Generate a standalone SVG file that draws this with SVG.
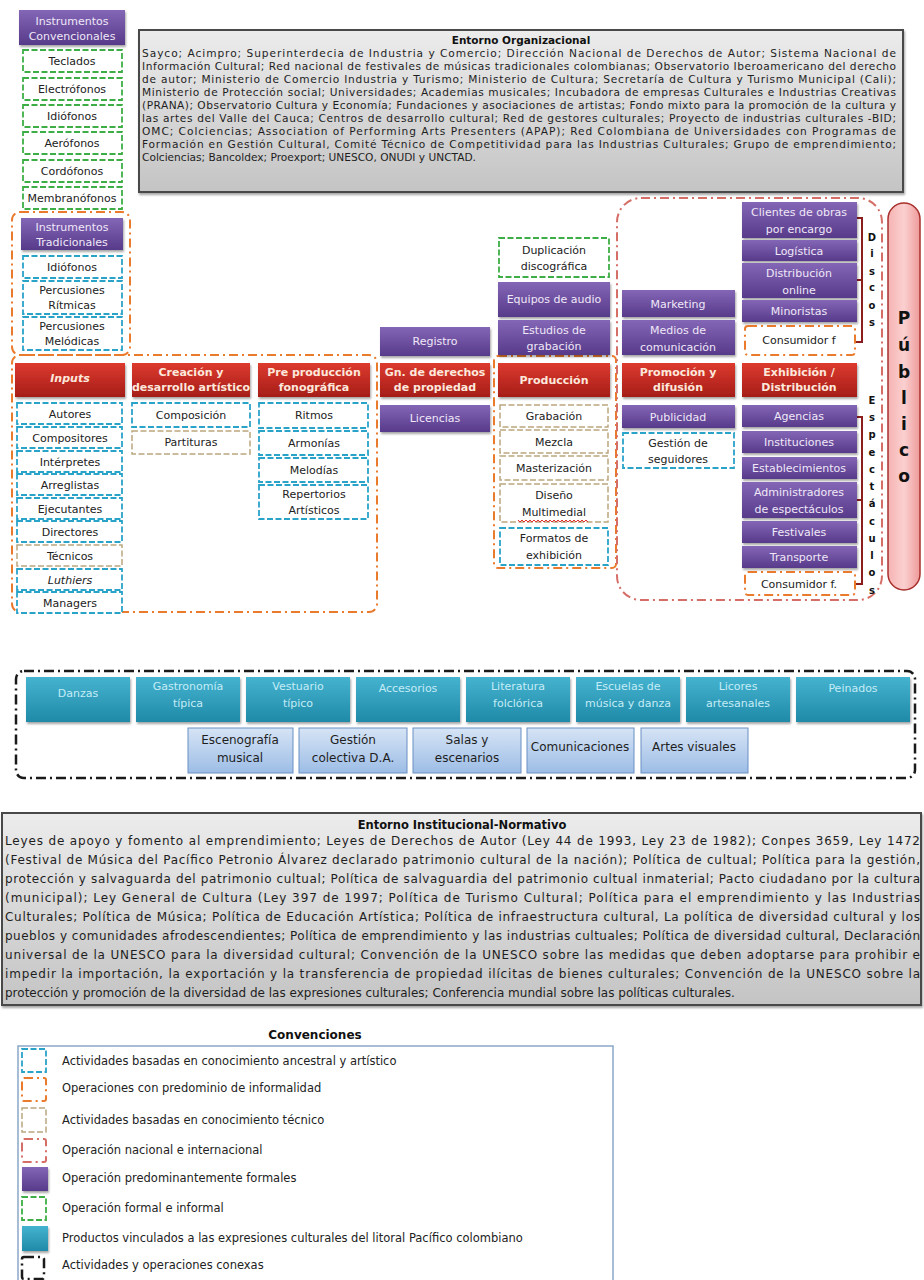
<svg xmlns="http://www.w3.org/2000/svg" width="924" height="1280" viewBox="0 0 924 1280">
<defs>
<linearGradient id="gp" x1="0" y1="0" x2="0" y2="1"><stop offset="0" stop-color="#8466b6"/><stop offset="1" stop-color="#573a8a"/></linearGradient>
<linearGradient id="gr" x1="0" y1="0" x2="0" y2="1"><stop offset="0" stop-color="#dd3a2e"/><stop offset="1" stop-color="#a51d18"/></linearGradient>
<linearGradient id="gt" x1="0" y1="0" x2="0" y2="1"><stop offset="0" stop-color="#45b3cf"/><stop offset="1" stop-color="#1f8aa8"/></linearGradient>
<linearGradient id="gb" x1="0" y1="0" x2="0" y2="1"><stop offset="0" stop-color="#d6e4f5"/><stop offset="1" stop-color="#9dbde6"/></linearGradient>
<linearGradient id="gg" x1="0" y1="0" x2="0" y2="1"><stop offset="0" stop-color="#ececec"/><stop offset="1" stop-color="#c4c4c4"/></linearGradient>
<linearGradient id="gpk" x1="0" y1="0" x2="1" y2="0"><stop offset="0" stop-color="#f6b3b3"/><stop offset="0.5" stop-color="#fbd0d0"/><stop offset="1" stop-color="#ee9a9a"/></linearGradient>
<filter id="sh" x="-10%" y="-10%" width="130%" height="140%"><feDropShadow dx="1" dy="2" stdDeviation="1.2" flood-color="#000" flood-opacity="0.35"/></filter>
</defs>
<style>
.pur{fill:url(#gp);filter:url(#sh)}
.red{fill:url(#gr);filter:url(#sh)}
.teal{fill:url(#gt);filter:url(#sh)}
.lb{fill:url(#gb);stroke:#6a8fc4;stroke-width:1}
.cy{fill:#fff;stroke:#2aa3c9;stroke-width:1.8;stroke-dasharray:6 2.5}
.gn{fill:#fff;stroke:#3dae45;stroke-width:1.8;stroke-dasharray:6 2.5}
.tn{fill:#fff;stroke:#bba77f;stroke-width:1.5;stroke-dasharray:6 2.5}
.or{fill:none;stroke:#ea7a2c;stroke-width:2;stroke-dasharray:9 4 2 4}
.nat{fill:none;stroke:#d66e68;stroke-width:2;stroke-dasharray:9 4 2 4}
.blk{fill:none;stroke:#1a1a1a;stroke-width:2.5;stroke-dasharray:10 4 2 4}
.env{fill:url(#gg);stroke:#4a4a4a;stroke-width:2;filter:url(#sh)}
text{font-family:"DejaVu Sans","Liberation Sans",sans-serif}
.t{font-size:11px;fill:#222;text-anchor:middle}
.w{font-size:11px;fill:#efe8f8;text-anchor:middle}
.h{font-size:11px;fill:#fde8dc;text-anchor:middle;font-weight:bold}
.tt{font-size:11px;fill:#c4ecf7;text-anchor:middle}
.b{font-size:12px;fill:#1e1e1e;text-anchor:middle}
.p{font-size:10.6px;fill:#1e1e1e}
.q{font-size:12px;fill:#1e1e1e}
.v{font-size:10px;font-weight:bold;fill:#111;text-anchor:middle}
.pu{font-size:17px;font-weight:bold;fill:#111;text-anchor:middle}
.lg{font-size:11.5px;fill:#222}
</style>

<!-- Entorno Organizacional -->
<g id="entorno-organizacional">
<rect class="env" x="139" y="30" width="764" height="162"/>
<text x="521" y="44" style="font-size:10.5px;font-weight:bold;fill:#111;text-anchor:middle">Entorno Organizacional</text>
<text class="p" x="142" y="57" textLength="754" lengthAdjust="spacing">Sayco; Acimpro; Superinterdecia de Industria y Comercio; Dirección Nacional de Derechos de Autor; Sistema Nacional de</text>
<text class="p" x="142" y="70" textLength="754" lengthAdjust="spacing">Información Cultural; Red nacional de festivales de músicas tradicionales colombianas; Observatorio Iberoamericano del derecho</text>
<text class="p" x="142" y="83" textLength="754" lengthAdjust="spacing">de autor; Ministerio de Comercio Industria y Turismo; Ministerio de Cultura; Secretaría de Cultura y Turismo Municipal (Cali);</text>
<text class="p" x="142" y="96" textLength="754" lengthAdjust="spacing">Ministerio de Protección social; Universidades; Academias musicales; Incubadora de empresas Culturales e Industrias Creativas</text>
<text class="p" x="142" y="109" textLength="754" lengthAdjust="spacing">(PRANA); Observatorio Cultura y Economía; Fundaciones y asociaciones de artistas; Fondo mixto para la promoción de la cultura y</text>
<text class="p" x="142" y="122" textLength="754" lengthAdjust="spacing">las artes del Valle del Cauca; Centros de desarrollo cultural; Red de gestores culturales; Proyecto de industrias culturales -BID;</text>
<text class="p" x="142" y="135" textLength="754" lengthAdjust="spacing">OMC; Colciencias; Association of Performing Arts Presenters (APAP); Red Colombiana de Universidades con Programas de</text>
<text class="p" x="142" y="148" textLength="754" lengthAdjust="spacing">Formación en Gestión Cultural, Comité Técnico de Competitividad para las Industrias Culturales; Grupo de emprendimiento;</text>
<text class="p" x="142" y="161">Colciencias; Bancoldex; Proexport; UNESCO, ONUDI y UNCTAD.</text>
</g>

<!-- Containers (groupings) -->
<g id="connectors">
<rect class="or" x="12" y="212" width="118" height="143" rx="8"/>
<rect class="or" x="12" y="355" width="365" height="257" rx="8"/>
<rect class="or" x="494" y="356" width="122" height="212" rx="4"/>
<rect class="nat" x="617" y="198" width="265" height="402" rx="24"/>
<path d="M855,218 H862 V342 H855 M862,280 H857" fill="none" stroke="#8b1d1d" stroke-width="2"/>
<path d="M855,417 H862 V584 H855 M862,500 H857" fill="none" stroke="#8b1d1d" stroke-width="2"/>
<rect class="blk" x="16" y="671" width="899" height="107" rx="8"/>
</g>

<!-- Instrumentos Convencionales -->
<g id="instrumentos-convencionales">
<rect class="pur" x="19" y="10" width="106" height="35"/>
<text class="w" x="72" y="25">Instrumentos</text>
<text class="w" x="72" y="40">Convencionales</text>
</g>
<g id="teclados"><rect class="gn" x="23" y="50" width="99" height="22"/><text class="t" x="72" y="65">Teclados</text></g>
<g id="electrofonos"><rect class="gn" x="23" y="78" width="99" height="22"/><text class="t" x="72" y="93">Electrófonos</text></g>
<g id="idiofonos-c"><rect class="gn" x="23" y="105" width="99" height="22"/><text class="t" x="72" y="120">Idiófonos</text></g>
<g id="aerofonos"><rect class="gn" x="23" y="132" width="99" height="22"/><text class="t" x="72" y="147">Aerófonos</text></g>
<g id="cordofonos"><rect class="gn" x="23" y="160" width="99" height="22"/><text class="t" x="72" y="175">Cordófonos</text></g>
<g id="membranofonos"><rect class="gn" x="23" y="187" width="99" height="22"/><text class="t" x="72" y="202">Membranófonos</text></g>

<!-- Instrumentos Tradicionales -->
<g id="instrumentos-tradicionales">
<rect class="pur" x="21" y="218" width="102" height="32"/>
<text class="w" x="72" y="231">Instrumentos</text>
<text class="w" x="72" y="246">Tradicionales</text>
</g>
<g id="idiofonos-t"><rect class="cy" x="23" y="256" width="99" height="22"/><text class="t" x="72" y="271">Idiófonos</text></g>
<g id="percusiones-ritmicas"><rect class="cy" x="23" y="281" width="99" height="33"/><text class="t" x="72" y="294">Percusiones</text><text class="t" x="72" y="309">Rítmicas</text></g>
<g id="percusiones-melodicas"><rect class="cy" x="23" y="317" width="99" height="33"/><text class="t" x="72" y="330">Percusiones</text><text class="t" x="72" y="345">Melódicas</text></g>

<!-- Inputs column -->
<g id="inputs"><rect class="red" x="15" y="363" width="110" height="34"/><text class="h" x="70" y="382" style="font-style:italic">Inputs</text></g>
<g id="autores"><rect class="cy" x="17" y="403" width="105" height="21"/><text class="t" x="70" y="418">Autores</text></g>
<g id="compositores"><rect class="cy" x="17" y="427" width="105" height="21"/><text class="t" x="70" y="442">Compositores</text></g>
<g id="interpretes"><rect class="cy" x="17" y="451" width="105" height="21"/><text class="t" x="70" y="466">Intérpretes</text></g>
<g id="arreglistas"><rect class="cy" x="17" y="474" width="105" height="21"/><text class="t" x="70" y="489">Arreglistas</text></g>
<g id="ejecutantes"><rect class="cy" x="17" y="498" width="105" height="21"/><text class="t" x="70" y="513">Ejecutantes</text></g>
<g id="directores"><rect class="cy" x="17" y="521" width="105" height="21"/><text class="t" x="70" y="536">Directores</text></g>
<g id="tecnicos"><rect class="tn" x="17" y="545" width="105" height="21"/><text class="t" x="70" y="560">Técnicos</text></g>
<g id="luthiers"><rect class="cy" x="17" y="569" width="105" height="21"/><text class="t" x="70" y="584" style="font-style:italic">Luthiers</text></g>
<g id="managers"><rect class="cy" x="17" y="592" width="105" height="21"/><text class="t" x="70" y="607">Managers</text></g>

<!-- Creación -->
<g id="creacion"><rect class="red" x="132" y="363" width="118" height="34"/><text class="h" x="191" y="376">Creación y</text><text class="h" x="191" y="391">desarrollo artístico</text></g>
<g id="composicion"><rect class="cy" x="132" y="403" width="118" height="24"/><text class="t" x="191" y="419">Composición</text></g>
<g id="partituras"><rect class="tn" x="132" y="431" width="118" height="23"/><text class="t" x="191" y="446">Partituras</text></g>

<!-- Pre producción -->
<g id="preproduccion"><rect class="red" x="258" y="363" width="112" height="34"/><text class="h" x="314" y="376">Pre producción</text><text class="h" x="314" y="391">fonográfica</text></g>
<g id="ritmos"><rect class="cy" x="259" y="403" width="109" height="25"/><text class="t" x="314" y="419">Ritmos</text></g>
<g id="armonias"><rect class="cy" x="259" y="431" width="109" height="24"/><text class="t" x="314" y="447">Armonías</text></g>
<g id="melodias"><rect class="cy" x="259" y="458" width="109" height="24"/><text class="t" x="314" y="474">Melodías</text></g>
<g id="repertorios"><rect class="cy" x="259" y="485" width="109" height="34"/><text class="t" x="314" y="498">Repertorios</text><text class="t" x="314" y="514">Artísticos</text></g>

<!-- Gn. derechos -->
<g id="registro"><rect class="pur" x="380" y="327" width="110" height="29"/><text class="w" x="435" y="345">Registro</text></g>
<g id="gn-derechos"><rect class="red" x="380" y="363" width="110" height="34"/><text class="h" x="435" y="376">Gn. de derechos</text><text class="h" x="435" y="391">de propiedad</text></g>
<g id="licencias"><rect class="pur" x="380" y="405" width="110" height="27"/><text class="w" x="435" y="422">Licencias</text></g>

<!-- Producción -->
<g id="duplicacion"><rect class="gn" x="499" y="238" width="110" height="39"/><text class="t" x="554" y="254">Duplicación</text><text class="t" x="554" y="270">discográfica</text></g>
<g id="equipos-audio"><rect class="pur" x="498" y="282" width="112" height="35"/><text class="w" x="554" y="303">Equipos de audio</text></g>
<g id="estudios"><rect class="pur" x="498" y="320" width="112" height="35"/><text class="w" x="554" y="334">Estudios de</text><text class="w" x="554" y="350">grabación</text></g>
<g id="produccion"><rect class="red" x="498" y="363" width="112" height="34"/><text class="h" x="554" y="384">Producción</text></g>
<g id="grabacion"><rect class="tn" x="500" y="405" width="108" height="22"/><text class="t" x="554" y="420">Grabación</text></g>
<g id="mezcla"><rect class="tn" x="500" y="430" width="108" height="23"/><text class="t" x="554" y="446">Mezcla</text></g>
<g id="masterizacion"><rect class="tn" x="500" y="456" width="108" height="24"/><text class="t" x="554" y="472">Masterización</text></g>
<g id="diseno"><rect class="tn" x="500" y="484" width="108" height="38"/><text class="t" x="554" y="499">Diseño</text><text class="t" x="554" y="516">Multimedial</text><path d="M518,520 l2,2 l2,-2 l2,2 l2,-2 l2,2 l2,-2 l2,2 l2,-2 l2,2 l2,-2 l2,2 l2,-2 l2,2 l2,-2 l2,2 l2,-2 l2,2 l2,-2 l2,2 l2,-2 l2,2 l2,-2 l2,2 l2,-2 l2,2 l2,-2 l2,2 l2,-2 l2,2 l2,-2 l2,2 l2,-2 l2,2 l2,-2 l2,2" fill="none" stroke="#e03030" stroke-width="1"/></g>
<g id="formatos"><rect class="cy" x="500" y="528" width="108" height="37"/><text class="t" x="554" y="542">Formatos de</text><text class="t" x="554" y="559">exhibición</text></g>

<!-- Promoción -->
<g id="marketing"><rect class="pur" x="622" y="290" width="113" height="27"/><text class="w" x="678" y="308">Marketing</text></g>
<g id="medios"><rect class="pur" x="622" y="320" width="113" height="35"/><text class="w" x="678" y="334">Medios de</text><text class="w" x="678" y="351">comunicación</text></g>
<g id="promocion"><rect class="red" x="622" y="363" width="113" height="34"/><text class="h" x="678" y="376">Promoción y</text><text class="h" x="678" y="391">difusión</text></g>
<g id="publicidad"><rect class="pur" x="622" y="405" width="113" height="23"/><text class="w" x="678" y="421">Publicidad</text></g>
<g id="gestion-seguidores"><rect class="cy" x="623" y="433" width="111" height="35"/><text class="t" x="678" y="447">Gestión de</text><text class="t" x="678" y="463">seguidores</text></g>

<!-- Exhibición -->
<g id="clientes"><rect class="pur" x="742" y="202" width="115" height="36"/><text class="w" x="799" y="216">Clientes de obras</text><text class="w" x="799" y="233">por encargo</text></g>
<g id="logistica"><rect class="pur" x="742" y="240" width="115" height="21"/><text class="w" x="799" y="255">Logística</text></g>
<g id="distribucion-online"><rect class="pur" x="742" y="263" width="115" height="35"/><text class="w" x="799" y="277">Distribución</text><text class="w" x="799" y="294">online</text></g>
<g id="minoristas"><rect class="pur" x="742" y="300" width="115" height="22"/><text class="w" x="799" y="315">Minoristas</text></g>
<g id="consumidor-discos"><rect class="or" x="745" y="326" width="110" height="29" rx="3"/><text class="t" x="799" y="344">Consumidor f</text></g>
<g id="exhibicion"><rect class="red" x="742" y="363" width="115" height="34"/><text class="h" x="799" y="376">Exhibición /</text><text class="h" x="799" y="391">Distribución</text></g>
<g id="agencias"><rect class="pur" x="742" y="405" width="115" height="22"/><text class="w" x="799" y="420">Agencias</text></g>
<g id="instituciones"><rect class="pur" x="742" y="431" width="115" height="22"/><text class="w" x="799" y="446">Instituciones</text></g>
<g id="establecimientos"><rect class="pur" x="742" y="457" width="115" height="22"/><text class="w" x="799" y="472">Establecimientos</text></g>
<g id="administradores"><rect class="pur" x="742" y="482" width="115" height="36"/><text class="w" x="799" y="496">Administradores</text><text class="w" x="799" y="513">de espectáculos</text></g>
<g id="festivales"><rect class="pur" x="742" y="521" width="115" height="22"/><text class="w" x="799" y="536">Festivales</text></g>
<g id="transporte"><rect class="pur" x="742" y="546" width="115" height="22"/><text class="w" x="799" y="561">Transporte</text></g>
<g id="consumidor-espectaculos"><rect class="or" x="745" y="572" width="110" height="23" rx="3"/><text class="t" x="799" y="588">Consumidor f.</text></g>

<!-- vertical labels -->
<g id="discos">
<text class="v" x="872" y="241">D</text><text class="v" x="872" y="257">i</text><text class="v" x="872" y="275">s</text><text class="v" x="872" y="291">c</text><text class="v" x="872" y="309">o</text><text class="v" x="872" y="326">s</text>
</g>
<g id="espectaculos">
<text class="v" x="872" y="404">E</text><text class="v" x="872" y="421">s</text><text class="v" x="872" y="438">p</text><text class="v" x="872" y="456">e</text><text class="v" x="872" y="473">c</text><text class="v" x="872" y="490">t</text><text class="v" x="872" y="507">á</text><text class="v" x="872" y="525">c</text><text class="v" x="872" y="542">u</text><text class="v" x="872" y="559">l</text><text class="v" x="872" y="576">o</text><text class="v" x="872" y="594">s</text>
</g>

<!-- Público -->
<g id="publico">
<rect x="888" y="203" width="32" height="387" rx="16" fill="url(#gpk)" stroke="#a8302c" stroke-width="1.5"/>
<text class="pu" x="904" y="324">P</text><text class="pu" x="904" y="351">ú</text><text class="pu" x="904" y="378">b</text><text class="pu" x="904" y="404">l</text><text class="pu" x="904" y="430">i</text><text class="pu" x="904" y="456">c</text><text class="pu" x="904" y="482">o</text>
</g>

<!-- Bottom band: row 1 -->
<g id="danzas"><rect class="teal" x="26" y="677" width="104" height="45"/><text class="tt" x="78" y="697">Danzas</text></g>
<g id="gastronomia"><rect class="teal" x="136" y="677" width="104" height="45"/><text class="tt" x="188" y="690">Gastronomía</text><text class="tt" x="188" y="707">típica</text></g>
<g id="vestuario"><rect class="teal" x="246" y="677" width="104" height="45"/><text class="tt" x="298" y="690">Vestuario</text><text class="tt" x="298" y="707">típico</text></g>
<g id="accesorios"><rect class="teal" x="356" y="677" width="104" height="45"/><text class="tt" x="408" y="692">Accesorios</text></g>
<g id="literatura"><rect class="teal" x="466" y="677" width="104" height="45"/><text class="tt" x="518" y="690">Literatura</text><text class="tt" x="518" y="707">folclórica</text></g>
<g id="escuelas"><rect class="teal" x="576" y="677" width="104" height="45"/><text class="tt" x="628" y="690">Escuelas de</text><text class="tt" x="628" y="707">música y danza</text></g>
<g id="licores"><rect class="teal" x="686" y="677" width="104" height="45"/><text class="tt" x="738" y="690">Licores</text><text class="tt" x="738" y="707">artesanales</text></g>
<g id="peinados"><rect class="teal" x="796" y="677" width="114" height="45"/><text class="tt" x="853" y="692">Peinados</text></g>

<!-- Bottom band: row 2 -->
<g id="escenografia"><rect class="lb" x="188" y="728" width="105" height="45"/><text class="b" x="240" y="744">Escenografía</text><text class="b" x="240" y="762">musical</text></g>
<g id="gestion-colectiva"><rect class="lb" x="299" y="728" width="108" height="45"/><text class="b" x="353" y="744">Gestión</text><text class="b" x="353" y="762">colectiva D.A.</text></g>
<g id="salas"><rect class="lb" x="413" y="728" width="108" height="45"/><text class="b" x="467" y="744">Salas y</text><text class="b" x="467" y="762">escenarios</text></g>
<g id="comunicaciones"><rect class="lb" x="527" y="728" width="107" height="45"/><text class="b" x="580" y="751">Comunicaciones</text></g>
<g id="artes-visuales"><rect class="lb" x="641" y="728" width="107" height="45"/><text class="b" x="694" y="751">Artes visuales</text></g>

<!-- Entorno Institucional-Normativo -->
<g id="entorno-institucional">
<rect class="env" x="2" y="813" width="919" height="192"/>
<text x="462" y="829" style="font-size:11.5px;font-weight:bold;fill:#111;text-anchor:middle">Entorno Institucional-Normativo</text>
<text class="q" x="5" y="845" textLength="915" lengthAdjust="spacing">Leyes de apoyo y fomento al emprendimiento; Leyes de Derechos de Autor (Ley 44 de 1993, Ley 23 de 1982); Conpes 3659, Ley 1472</text>
<text class="q" x="5" y="864" textLength="915" lengthAdjust="spacing">(Festival de Música del Pacífico Petronio Álvarez declarado patrimonio cultural de la nación); Política de cultual; Política para la gestión,</text>
<text class="q" x="5" y="883" textLength="915" lengthAdjust="spacing">protección y salvaguarda del patrimonio cultual; Política de salvaguardia del patrimonio cultual inmaterial; Pacto ciudadano por la cultura</text>
<text class="q" x="5" y="902" textLength="915" lengthAdjust="spacing">(municipal); Ley General de Cultura (Ley 397 de 1997; Política de Turismo Cultural; Política para el emprendimiento y las Industrias</text>
<text class="q" x="5" y="921" textLength="915" lengthAdjust="spacing">Culturales; Política de Música; Política de Educación Artística; Política de infraestructura cultural, La política de diversidad cultural y los</text>
<text class="q" x="5" y="940" textLength="915" lengthAdjust="spacing">pueblos y comunidades afrodescendientes; Política de emprendimiento y las industrias cultuales; Política de diversidad cultural, Declaración</text>
<text class="q" x="5" y="959" textLength="915" lengthAdjust="spacing">universal de la UNESCO para la diversidad cultural; Convención de la UNESCO sobre las medidas que deben adoptarse para prohibir e</text>
<text class="q" x="5" y="978" textLength="915" lengthAdjust="spacing">impedir la importación, la exportación y la transferencia de propiedad ilícitas de bienes culturales; Convención de la UNESCO sobre la</text>
<text class="q" x="5" y="997">protección y promoción de la diversidad de las expresiones culturales; Conferencia mundial sobre las políticas culturales.</text>
</g>

<!-- Convenciones -->
<g id="convenciones">
<text x="315" y="1039" style="font-size:12px;font-weight:bold;fill:#111;text-anchor:middle">Convenciones</text>
<rect x="18" y="1046" width="595" height="240" fill="#fff" stroke="#8aa6c8" stroke-width="1.5"/>
<rect class="cy" x="22" y="1049" width="24" height="23"/>
<text class="lg" x="62" y="1065">Actividades basadas en conocimiento ancestral y artístico</text>
<rect class="or" x="22" y="1078" width="24" height="23" rx="2"/>
<text class="lg" x="62" y="1092">Operaciones con predominio de informalidad</text>
<rect class="tn" x="22" y="1108" width="24" height="24"/>
<text class="lg" x="62" y="1124">Actividades basadas en conocimiento técnico</text>
<rect class="nat" x="22" y="1139" width="24" height="23" rx="2"/>
<text class="lg" x="62" y="1154">Operación nacional e internacional</text>
<rect class="pur" x="22" y="1167" width="26" height="24"/>
<text class="lg" x="62" y="1182">Operación predominantemente formales</text>
<rect class="gn" x="22" y="1197" width="24" height="23"/>
<text class="lg" x="62" y="1212">Operación formal e informal</text>
<rect class="teal" x="22" y="1226" width="26" height="25"/>
<text class="lg" x="62" y="1242">Productos vinculados a las expresiones culturales del litoral Pacífico colombiano</text>
<rect class="blk" x="22" y="1257" width="22" height="22" rx="2"/>
<text class="lg" x="62" y="1269">Actividades y operaciones conexas</text>
</g>
</svg>
